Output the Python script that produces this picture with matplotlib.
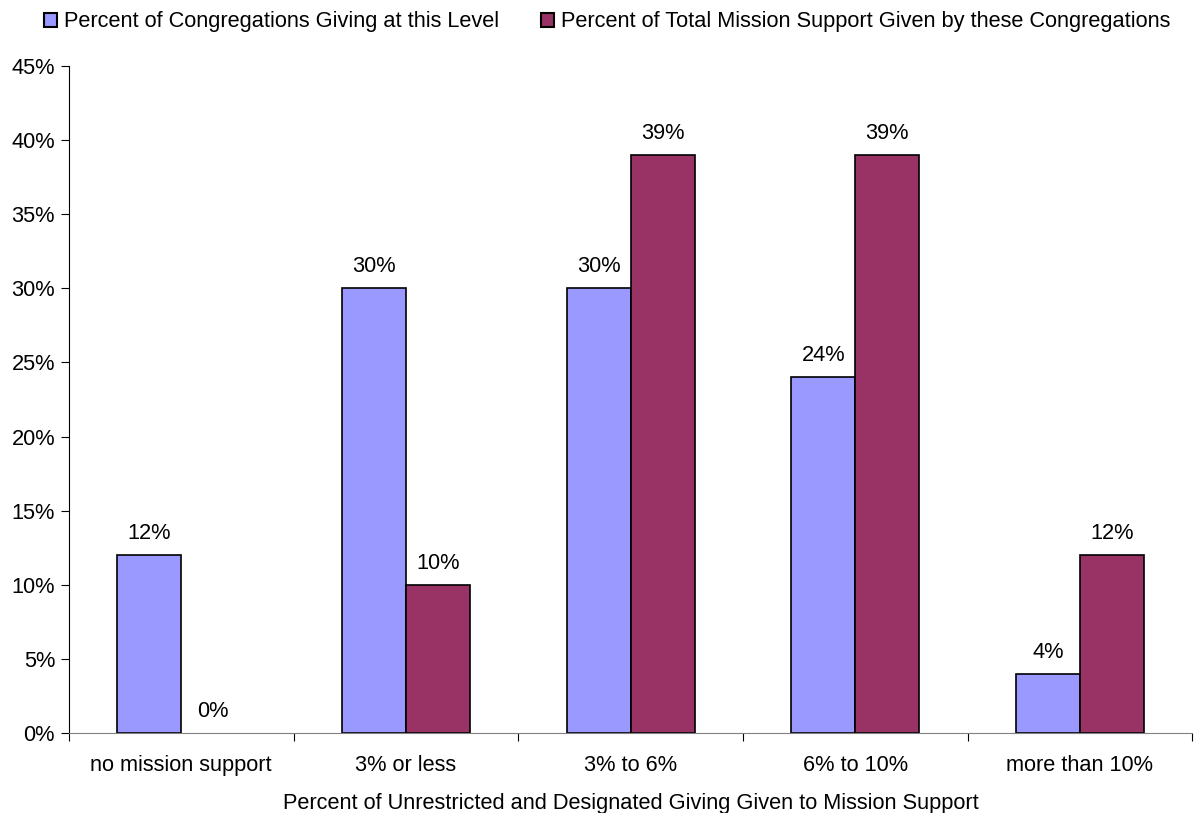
import numpy as np
import matplotlib.pyplot as plt
from matplotlib.patches import Patch

plt.rcParams['font.family'] = ['Liberation Sans', 'DejaVu Sans']

categories = ['no mission support', '3% or less', '3% to 6%', '6% to 10%', 'more than 10%']
pct_congregations = [12, 30, 30, 24, 4]
pct_support = [0, 10, 39, 39, 12]
series_names = ['Percent of Congregations Giving at this Level',
                'Percent of Total Mission Support Given by these Congregations']

blue = '#9999FF'
plum = '#993366'
fs = 15.7

fig = plt.figure(figsize=(11.95, 8.13), dpi=100)
ax = fig.add_axes([0.0577, 0.0984, 0.940, 0.8204])

x = np.arange(len(categories))
w = 0.285
b1 = ax.bar(x - w / 2, pct_congregations, w, color=blue, edgecolor='black', linewidth=1.2)
b2 = ax.bar(x + w / 2, pct_support, w, color=plum, edgecolor='black', linewidth=1.2)

for bars, vals in ((b1, pct_congregations), (b2, pct_support)):
    for rect, v in zip(bars, vals):
        if v == 0:
            rect.set_linewidth(0)
        ax.annotate(f'{v}%', (rect.get_x() + rect.get_width() / 2, v),
                    xytext=(0, 8), textcoords='offset points',
                    ha='center', va='bottom', fontsize=fs)

ax.set_xlim(-0.5, len(categories) - 0.5)
ax.set_ylim(0, 45)
ax.set_yticks(np.arange(0, 46, 5))
ax.set_yticklabels([f'{t}%' for t in range(0, 46, 5)], fontsize=fs)

# category labels sit between the boundary ticks
ax.set_xticks(np.arange(-0.5, len(categories), 1))
ax.set_xticklabels([])
ax.set_xticks(x, minor=True)
ax.set_xticklabels(categories, minor=True, fontsize=fs)
ax.tick_params(axis='x', which='minor', length=0, pad=16)
ax.tick_params(axis='x', which='major', length=6, color='black')
ax.tick_params(axis='y', length=6, pad=4)

ax.spines['top'].set_visible(False)
ax.spines['right'].set_visible(False)
ax.spines['left'].set_color('black')
ax.spines['bottom'].set_color('#808080')
ax.set_xlabel('Percent of Unrestricted and Designated Giving Given to Mission Support',
              fontsize=fs, labelpad=12)

handles = [Patch(facecolor=blue, edgecolor='black', linewidth=1.5),
           Patch(facecolor=plum, edgecolor='black', linewidth=1.5)]
fig.legend(handles, series_names, loc='upper center', bbox_to_anchor=(0.508, 1.01), ncol=2,
           frameon=False, fontsize=fs, handlelength=0.6, handleheight=0.6,
           handletextpad=0.32, columnspacing=1.9)

fig.savefig('out.png', dpi=100)
